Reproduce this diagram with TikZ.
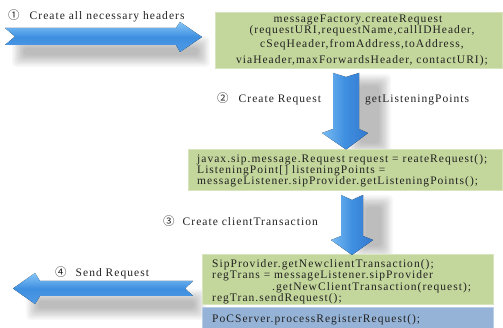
\documentclass[tikz,border=0pt]{standalone}
\usepackage{fontspec}
\setmainfont{Liberation Serif}[LetterSpace=9]
\newfontfamily\cjk{Noto Sans CJK SC}
\definecolor{boxgreen}{HTML}{C3D69B}
\definecolor{boxgreenedge}{HTML}{D7E4BD}
\definecolor{boxblue}{HTML}{95B3D7}
\definecolor{boxblueedge}{HTML}{B9CDE5}
\definecolor{arrlight}{HTML}{86C6F7}
\definecolor{arrmid}{HTML}{3F8FE0}
\definecolor{arrdark}{HTML}{3479CF}
\definecolor{txtcol}{HTML}{222222}
\newcommand{\softshadow}[4]{%
  \foreach \k in {0,...,9} {%
    \fill[black, opacity=0.028, rounded corners=4pt] ({#1+\k*1.3},{#2+\k*1.3}) rectangle ({#3-\k*1.3},{#4-\k*1.3});
  }}
\begin{document}
\begin{tikzpicture}[x=1pt,y=-1pt,
  txt/.style={inner sep=0pt, font=\fontsize{11.5}{12}\selectfont, text=txtcol},
  greenbox/.style={fill=boxgreen, draw=boxgreenedge, line width=1pt},
  bluebox/.style={fill=boxblue, draw=boxblueedge, line width=1pt},
  harrow/.style={top color=arrlight, bottom color=arrmid!80!arrlight, middle color=arrmid, draw=none},
  varrow/.style={left color=arrlight!80!arrmid, right color=arrdark, middle color=arrmid, draw=none}]
\useasboundingbox (0,0) rectangle (503,328);
\fill[white] (0,0) rectangle (503,328);

% shadows
\softshadow{12}{36}{210}{67}
\softshadow{26}{289}{206}{320}
\softshadow{348}{74}{391}{155}
\softshadow{354}{195}{393}{258}

% boxes
\path[greenbox] (215,12.5) rectangle (502,69);
\node[inner sep=0pt] (box1) at (358.5,40.75) {};
\path[greenbox] (188,150) rectangle (502,191);
\node[inner sep=0pt] (box2) at (345,170.5) {};
\path[greenbox] (202,255) rectangle (493,305);
\node[inner sep=0pt] (box3) at (347.5,280) {};
\path[bluebox] (202,307.5) rectangle (493,329);
\node[inner sep=0pt] (box4) at (347.5,318) {};

% arrows
\coordinate (a1tip) at (202,37);
\coordinate (a2tip) at (346,149.5);
\coordinate (a3tip) at (352,255);
\coordinate (a4tip) at (13,288.5);
\fill[harrow] (5,28) -- (176,28) -- (180,22) -- (a1tip) -- (180,52) -- (176,45) -- (5,45) -- (15,36.5) -- cycle;
\fill[harrow] (193,281) -- (40,281) -- (35,273) -- (a4tip) -- (35,304) -- (40,296) -- (193,296) -- (185,288.5) -- cycle;
\fill[varrow] (333,73) -- (346,77) -- (359,73) -- (359,129) -- (368,133) -- (a2tip) -- (322,133) -- (333,129) -- cycle;
\fill[varrow] (341,195) -- (352,200) -- (363,195) -- (363,236) -- (373,240) -- (a3tip) -- (331,240) -- (341,236) -- cycle;

% labels
\node[txt, anchor=base west] (l1) at (8,20) {{\cjk\fontsize{11.5}{12}\selectfont ①}\hspace{10pt}Create all necessary headers};
\node[txt, anchor=base west] (l2) at (217,103) {{\cjk\fontsize{11.5}{12}\selectfont ②}\hspace{10pt}Create Request};
\node[txt, anchor=base west] (l2b) at (365,103) {getListeningPoints};
\node[txt, anchor=base west] (l3) at (163,226) {{\cjk\fontsize{11.5}{12}\selectfont ③}\hspace{8pt}Create clientTransaction};
\node[txt, anchor=base west] (l4) at (55,277) {{\cjk\fontsize{11.5}{12}\selectfont ④}\hspace{9pt}Send Request};

% box 1 text
\node[txt, anchor=base] (t11) at (358,22.5) {messageFactory.createRequest};
\node[txt, anchor=base] (t12) at (362,34) {(requestURI,requestName,callIDHeader,};
\node[txt, anchor=base] (t13) at (362,48) {cSeqHeader,fromAddress,toAddress,};
\node[txt, anchor=base] (t14) at (362,63.5) {viaHeader,maxForwardsHeader, contactURI);};

% box 2 text
\node[txt, anchor=base west] (t21) at (197,162.5) {javax.sip.message.Request request = reateRequest();};
\node[txt, anchor=base west] (t22) at (197,173.5) {ListeningPoint[] listeningPoints =};
\node[txt, anchor=base west] (t23) at (197,184.5) {messageListener.sipProvider.getListeningPoints();};

% box 3 text
\node[txt, anchor=base west] (t31) at (212,268) {SipProvider.getNewclientTransaction();};
\node[txt, anchor=base west] (t32) at (212,278.5) {regTrans = messageListener.sipProvider};
\node[txt, anchor=base west] (t33) at (272,291) {.getNewClientTransaction(request);};
\node[txt, anchor=base west] (t34) at (212,302) {regTran.sendRequest();};

% box 4 text
\node[txt, anchor=base west] (t41) at (212,323) {PoCServer.processRegisterRequest();};
\end{tikzpicture}
\end{document}
